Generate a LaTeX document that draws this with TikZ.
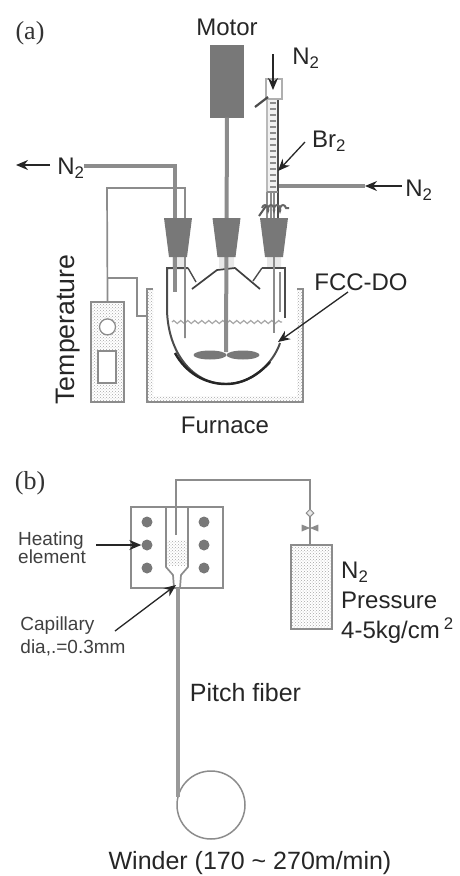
\documentclass[tikz,border=0pt]{standalone}
\usepackage{fontspec}
\setmainfont{Liberation Sans}
\newfontfamily\tagfont{Liberation Serif}
\usetikzlibrary{positioning, arrows.meta, shapes.geometric, decorations.pathmorphing, patterns}
\definecolor{solidGrey}{RGB}{120,120,120}
\definecolor{tubeGrey}{RGB}{140,140,140}
\definecolor{paleGrey}{RGB}{232,232,232}
\tikzset{
	biglabel/.style={font=\fontsize{24}{26}\selectfont, text=black!85, inner sep=0pt},
	widelabel/.style={font=\fontsize{25}{26}\selectfont, text=black!85, inner sep=0pt},
	smalllabel/.style={font=\fontsize{19}{23}\selectfont, text=black!75, inner sep=0pt, align=left},
	taglabel/.style={font=\fontsize{26}{27}\tagfont, text=black!80, inner sep=0pt},
	stopper/.pic={\fill[solidGrey] (-14,-19.5) -- (14,-19.5) -- (9,19.5) -- (-9,19.5) -- cycle;},
	tube/.style={draw=tubeGrey, line width=3.2pt},
	wire/.style={draw=tubeGrey, line width=1.7pt},
	flowarr/.style={-{Stealth[length=12pt,width=10pt]}, line width=1.3pt, draw=black!85},
	heatdot/.style={circle, fill=solidGrey, inner sep=0pt, minimum size=11pt},
	dotfill/.style={pattern=crosshatch dots, pattern color=black!35}
}
\begin{document}
\begin{tikzpicture}[x=1pt, y=-1pt]
	\useasboundingbox (0,0) rectangle (459,876);
	% part (a)
	\node[taglabel] (taga) at (30,33) {(a)};
	\node[biglabel] (motorlabel) at (227,27) {Motor};
	\node[draw=none, fill=solidGrey, minimum width=34pt, minimum height=73pt, inner sep=0pt] (motor) at (227,81) {};
	\fill[paleGrey] (172,257) rectangle (185,268) (219,257) rectangle (234,268) (267,257) rectangle (281,268);
	% furnace
	\node[draw=tubeGrey, line width=1.5pt, dotfill, minimum width=33pt, minimum height=100pt, inner sep=0pt] (tempbox) at (107.5,352) {};
	\node[circle, draw=tubeGrey, line width=1.3pt, fill=white, minimum size=16pt, inner sep=0pt, below=17pt of tempbox.north] (dial) {};
	\node[draw=tubeGrey, line width=1.3pt, fill=white, minimum width=18pt, minimum height=32pt, inner sep=0pt] (display) at (107,367) {};
	\fill[dotfill] (147,289) -- (153,289) -- (153,396) -- (297,396) -- (297,289) -- (303,289) -- (303,402) -- (147,402) -- cycle;
	\coordinate (furnTL) at (153,289);
	\coordinate (furnA) at (147,289);
	\coordinate (furnB) at (147,402);
	\coordinate (furnC) at (303,402);
	\coordinate (furnD) at (303,289);
	\coordinate (furnTR) at (297,289);
	\draw[wire] (furnTL) -- (furnA) -- (furnB) -- (furnC) -- (furnD) -- (furnTR);
	\node[biglabel] (furnacelabel) at (225,425) {Furnace};
	\node[font=\fontsize{26.7}{28}\selectfont, text=black!85, inner sep=0pt, rotate=90] (templabel) at (68,329.5) {Temperature};
	% flask
	\coordinate (flaskL) at (167,268);
	\coordinate (flaskR) at (285,268);
	\coordinate (flaskB) at (226,384);
	\draw[line width=2pt, draw=black!70] (188,268) -- (flaskL) -- (167,310) .. controls (168,352) and (192,384) .. (flaskB) .. controls (258,384) and (276,356) .. (280,343);
	\draw[line width=2.4pt, draw=black!85] (175,353) .. controls (186,373) and (205,384) .. (flaskB) .. controls (245,384) and (260,373) .. (270,362);
	\draw[line width=2.2pt, draw=black!70] (262,268) -- (flaskR) -- (285,318);
	\draw[wire] (280,272) -- (280,312);
	\draw[line width=1.7pt, draw=black!75] (192,289) -- (217,270) -- (235,268) -- (260,289);
	\draw[line width=1.4pt, draw=black!70] (188,268) -- (196,282) (262,268) -- (253,281);
	\draw[draw=black!35, line width=1.2pt, decorate, decoration={zigzag, amplitude=1.5pt, segment length=7pt}] (172,322) -- (282,322);
	% stirrer
	\coordinate (shaftEnd) at (226,352);
	\draw[tube, line width=4pt] (motor.south) -- (shaftEnd);
	\node[ellipse, fill=solidGrey, minimum width=33pt, minimum height=9pt, inner sep=0pt] (bladeL) at (210,355) {};
	\node[ellipse, fill=solidGrey, minimum width=33pt, minimum height=9pt, inner sep=0pt] (bladeR) at (243,355) {};
	% gas out, thermocouple
	\node[biglabel] (n2out) at (71,168) {N\textsubscript{2}};
	\coordinate (outA) at (175,166);
	\coordinate (outB) at (175,292);
	\draw[tube] (84,166) -- (outA) -- (outB);
	\coordinate (thermA) at (107,188);
	\coordinate (thermB) at (185,188);
	\coordinate (thermC) at (185,338);
	\draw[wire] (tempbox.north) -- (thermA) -- (thermB) -- (thermC);
	\coordinate (leadA) at (107,278);
	\coordinate (leadB) at (137,278);
	\coordinate (leadC) at (137,316);
	\coordinate (leadD) at (147,316);
	\draw[wire] (leadA) -- (leadB) -- (leadC) -- (leadD);
	\coordinate (outTip) at (16,165);
	\coordinate (outTail) at (50,165);
	\draw[flowarr] (outTail) -- (outTip);
	% burette
	\node[draw=tubeGrey!70, line width=1.4pt, minimum width=16pt, minimum height=20pt, inner sep=0pt] (bulb) at (274,89) {};
	\fill[paleGrey!60] (267,100) rectangle (278,192);
	\draw[line width=6pt, dash pattern=on 1.6pt off 4.4pt, draw=black!45] (272.5,102) -- (272.5,190);
	\draw[draw=tubeGrey!60, line width=1.5pt] (267,100) -- (267,192);
	\draw[wire] (267,192) -- (267,218);
	\draw[line width=2.2pt, draw=black!70] (278,100) -- (278,218);
	\draw[wire] (271,192) -- (271,218) (274,192) -- (274,333);
	\draw[wire] (267,192) -- (278,192);
	\coordinate (cockA) at (255,107);
	\coordinate (cockB) at (268,97);
	\draw[line width=2.2pt, draw=black!70] (cockA) -- (cockB);
	\draw[line width=2pt, draw=black!60, decorate, decoration={coil, amplitude=3pt, segment length=6pt}] (262,208) -- (289,208);
	\coordinate (cockC) at (259,216);
	\coordinate (cockD) at (266,206);
	\draw[line width=2pt, draw=black!65] (cockC) -- (cockD);
	% stoppers over the tubes
	\pic (stopL) at (178,237.5) {stopper};
	\pic (stopM) at (226.5,237.5) {stopper};
	\pic (stopR) at (274,237.5) {stopper};
	\coordinate (inTail) at (273,54);
	\coordinate (inTip) at (273,90);
	\draw[flowarr] (inTail) -- (inTip);
	\node[biglabel] (n2top) at (306,58) {N\textsubscript{2}};
	\node[biglabel] (brlabel) at (329,141) {Br\textsubscript{2}};
	\coordinate (brTail) at (305,142);
	\coordinate (brTip) at (278,171);
	\draw[flowarr] (brTail) -- (brTip);
	\coordinate (sideA) at (279,186);
	\coordinate (sideB) at (365,186);
	\draw[tube] (sideA) -- (sideB);
	\coordinate (sideTail) at (402,186);
	\coordinate (sideTip) at (365,186);
	\draw[flowarr] (sideTail) -- (sideTip);
	\node[biglabel] (n2right) at (419,190) {N\textsubscript{2}};
	\node[biglabel] (fcclabel) at (361,282) {FCC-DO};
	\coordinate (fccTail) at (348,292);
	\coordinate (fccTip) at (278,342);
	\draw[flowarr] (fccTail) -- (fccTip);
	% part (b)
	\node[taglabel] (tagb) at (30,483) {(b)};
	\node[draw=tubeGrey, line width=1.5pt, minimum width=92pt, minimum height=81pt, inner sep=0pt] (heater) at (177,547.5) {};
	\foreach \row/\ypos in {1/522, 2/545, 3/568} {
		\node[heatdot] (dotL\row) at (147,\ypos) {};
		\node[heatdot] (dotR\row) at (204,\ypos) {};
	}
	\fill[dotfill] (167,540) rectangle (187,565);
	\coordinate (barrelA) at (166,507);
	\coordinate (barrelB) at (166,567);
	\coordinate (barrelC) at (173,575);
	\coordinate (barrelD) at (174,588);
	\coordinate (barrelE) at (188,507);
	\coordinate (barrelF) at (188,567);
	\coordinate (barrelG) at (181,575);
	\coordinate (barrelH) at (180,588);
	\draw[wire] (barrelA) -- (barrelB) -- (barrelC) -- (barrelD);
	\draw[wire] (barrelE) -- (barrelF) -- (barrelG) -- (barrelH);
	\node[draw=tubeGrey, line width=1.5pt, dotfill, minimum width=41pt, minimum height=84pt, inner sep=0pt] (cylinder) at (311.5,587) {};
	\coordinate (lineA) at (176,535);
	\coordinate (lineB) at (176,480);
	\coordinate (lineC) at (310,480);
	\draw[wire, line width=2pt] (lineA) -- (lineB) -- (lineC) -- (cylinder.north -| lineC);
	\node[diamond, draw=tubeGrey, line width=1pt, fill=paleGrey, minimum size=8pt, inner sep=0pt] (gauge) at (310,513) {};
	\node[isosceles triangle, fill=tubeGrey, minimum size=7pt, inner sep=0pt] (valveL) at (304,528) {};
	\node[isosceles triangle, fill=tubeGrey, minimum size=7pt, inner sep=0pt, shape border rotate=180] (valveR) at (316,528) {};
	\node[smalllabel, font=\fontsize{19}{18}\selectfont] (heatlabel) at (52,548) {Heating\\element};
	\coordinate (heatTail) at (96,545);
	\draw[flowarr] (heatTail) -- (dotL2.west);
	\node[smalllabel] (caplabel) at (73,636) {Capillary\\dia,.=0.3mm};
	\coordinate (capTail) at (115,631);
	\coordinate (capTip) at (176,585);
	\draw[flowarr] (capTail) -- (capTip);
	\node[biglabel, align=left, anchor=north west] (gaslabel) at (341,562) {N\textsubscript{2}\\[4pt]Pressure\\[4pt]4-5kg/cm\,\textsuperscript{2}};
	\node[circle, draw=tubeGrey, line width=1.5pt, minimum size=68pt, inner sep=0pt] (winder) at (211,805) {};
	\coordinate (fiberA) at (178,588);
	\coordinate (fiberB) at (178,797);
	\draw[tube, draw=black!40, line width=4pt] (fiberA) -- (fiberB);
	\node[widelabel] (fiberlabel) at (245.5,693) {Pitch fiber};
	\node[widelabel] (winderlabel) at (250,863) {Winder (170 \textasciitilde{} 270m/min)};
\end{tikzpicture}
\end{document}
